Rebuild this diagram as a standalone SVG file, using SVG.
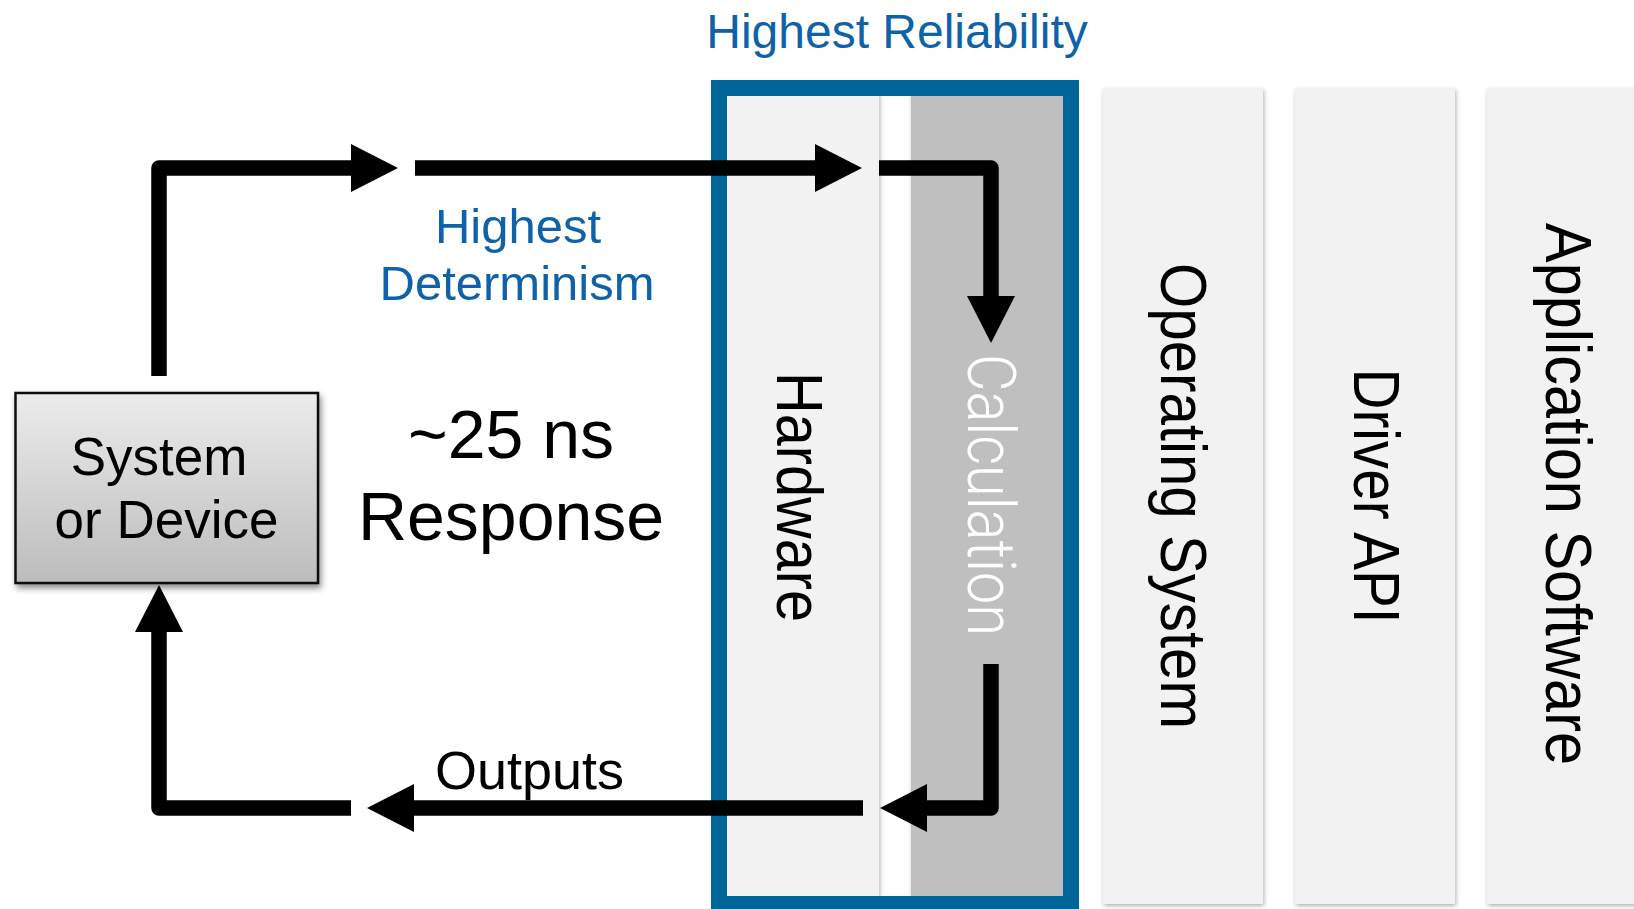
<svg xmlns="http://www.w3.org/2000/svg" width="1634" height="909" viewBox="0 0 1634 909">
  <defs>
    <linearGradient id="boxFill" x1="0" y1="0" x2="0" y2="1">
      <stop offset="0" stop-color="#ececec"/>
      <stop offset="1" stop-color="#bcbcbc"/>
    </linearGradient>
    <filter id="boxShadow" x="-10%" y="-10%" width="125%" height="130%">
      <feDropShadow dx="2" dy="4" stdDeviation="3" flood-color="#000" flood-opacity="0.45"/>
    </filter>
    <filter id="colShadow" x="-10%" y="-5%" width="125%" height="110%">
      <feDropShadow dx="1" dy="2" stdDeviation="2" flood-color="#000" flood-opacity="0.3"/>
    </filter>
    <marker id="head" markerUnits="userSpaceOnUse" markerWidth="47" markerHeight="48" refX="0" refY="24" orient="auto" overflow="visible">
      <path d="M0,0 L47,24 L0,48 Z" fill="#000"/>
    </marker>
  </defs>
  <style>
    .col { fill: #f2f2f2; filter: url(#colShadow); }
    .calc { fill: #bfbfbf; filter: url(#colShadow); }
    .frame { fill: none; stroke: #00669a; stroke-width: 16; }
    .wire { fill: none; stroke: #000; stroke-width: 15.5; stroke-linejoin: round; stroke-linecap: butt; marker-end: url(#head); }
    .sans { font-family: "Liberation Sans", Arial, Helvetica, sans-serif; }
    .blue { fill: #0f62a8; }
    .label { font-family: "Liberation Sans", Arial, Helvetica, sans-serif; fill: #000; }
    .layer { font-family: "Liberation Sans", Arial, Helvetica, sans-serif; font-size: 64px; fill: #000; text-anchor: middle; }
  </style>

  <rect width="1634" height="909" fill="#fff"/>

  <!-- stack of layers -->
  <g id="hardware">
    <rect class="col" x="719" y="88" width="160" height="816"/>
    <text class="layer" font-size="63" transform="translate(777,497) rotate(90)" textLength="250" lengthAdjust="spacingAndGlyphs">Hardware</text>
  </g>
  <g id="calculation">
    <rect class="calc" x="911" y="88" width="160" height="816"/>
    <text font-family="Roboto, 'Liberation Sans', sans-serif" font-weight="300" font-size="66" fill="#fff" text-anchor="middle" transform="translate(968,495) rotate(90)" textLength="282" lengthAdjust="spacingAndGlyphs">Calculation</text>
  </g>
  <g id="operating-system">
    <rect class="col" x="1103" y="88" width="160" height="816"/>
    <text class="layer" transform="translate(1161,496) rotate(90)" textLength="466" lengthAdjust="spacingAndGlyphs">Operating System</text>
  </g>
  <g id="driver-api">
    <rect class="col" x="1295" y="88" width="160" height="816"/>
    <text class="layer" transform="translate(1354,496) rotate(90)" textLength="255" lengthAdjust="spacingAndGlyphs">Driver API</text>
  </g>
  <g id="application-software">
    <rect class="col" x="1487" y="88" width="160" height="816"/>
    <text class="layer" transform="translate(1546,494) rotate(90)" textLength="542" lengthAdjust="spacingAndGlyphs">Application Software</text>
  </g>

  <!-- reliability frame around hardware + calculation -->
  <g id="highest-reliability">
    <rect class="frame" x="719" y="88" width="352" height="816"/>
    <text class="sans blue" x="897" y="48" font-size="48" text-anchor="middle">Highest Reliability</text>
  </g>

  <!-- external system -->
  <g id="system-device">
    <rect x="15.5" y="393" width="302.5" height="190" fill="url(#boxFill)" stroke="#111" stroke-width="2.5" filter="url(#boxShadow)"/>
    <text class="label" font-size="53" text-anchor="middle"><tspan x="159" y="475">System</tspan><tspan x="166.5" y="538">or Device</tspan></text>
  </g>

  <g id="labels">
    <text class="sans blue" font-size="49" text-anchor="middle"><tspan x="518" y="243">Highest</tspan><tspan x="517" y="300">Determinism</tspan></text>
    <text class="label" font-size="68" text-anchor="middle"><tspan x="511" y="458">~25 ns</tspan><tspan x="511" y="540">Response</tspan></text>
    <text class="label" x="435" y="789" font-size="54">Outputs</text>
  </g>

  <!-- signal loop -->
  <g id="connectors">
    <path class="wire" d="M159,376 L159,168 L351,168"/>
    <path class="wire" d="M415,168 L815,168"/>
    <path class="wire" d="M879,168 L991,168 L991,296"/>
    <path class="wire" d="M991,664 L991,808 L927,808"/>
    <path class="wire" d="M863,808 L414,808"/>
    <path class="wire" d="M351,808 L159,808 L159,632"/>
  </g>
</svg>
